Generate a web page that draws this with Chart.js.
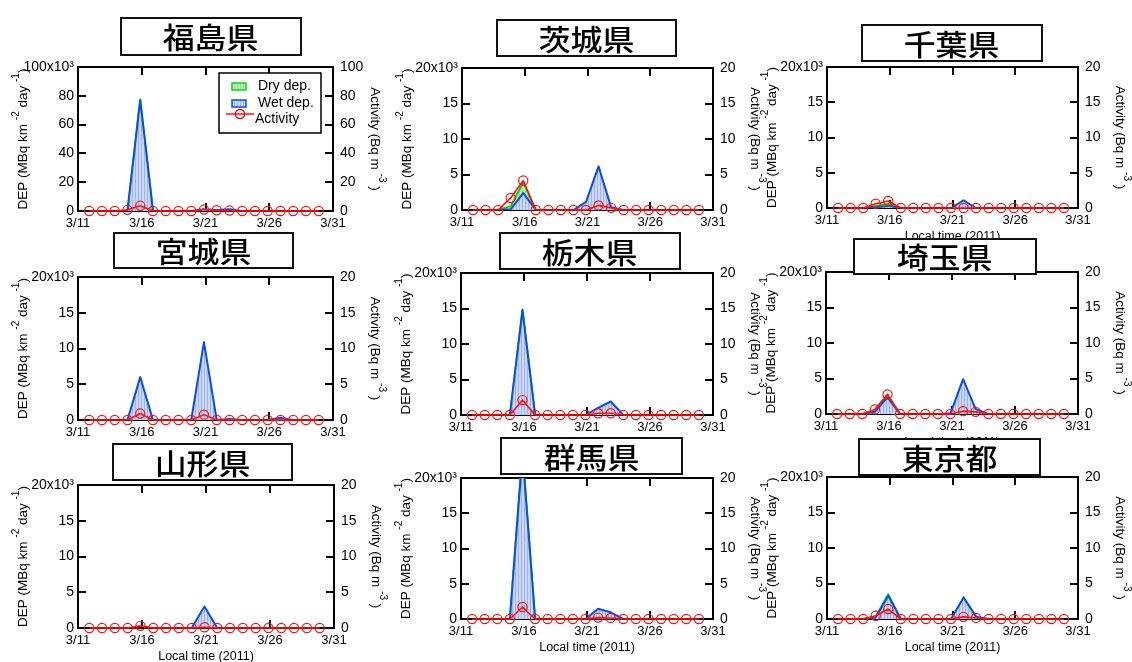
<!DOCTYPE html>
<html><head><meta charset="utf-8">
<script src="https://cdn.jsdelivr.net/npm/chart.js@4/dist/chart.umd.min.js"></script>
<style>
html,body{margin:0;padding:0;background:#fff;}
#wrap{position:relative;width:1132px;height:662px;overflow:hidden;background:#fff;}
#wrap canvas{position:absolute;}
.tbox{position:absolute;box-sizing:border-box;border:2px solid #111;background:#fff;z-index:10;display:flex;align-items:center;justify-content:center;}
.tbox span{font-family:"Noto Sans CJK JP","Noto Sans CJK SC",sans-serif;font-size:29px;font-weight:500;line-height:1;color:#000;display:inline-block;transform:scaleX(1.1);}
</style></head><body><div id="wrap"></div>
<script>
// ---------- data ----------
const prefectures = ['福島県','茨城県','千葉県','宮城県','栃木県','埼玉県','山形県','群馬県','東京都'];
const dateTicks = ['3/11','3/16','3/21','3/26','3/31'];
const sampleDays = [0.88,1.88,2.88,3.88,4.88,5.88,6.88,7.88,8.88,9.88,10.88,11.88,12.88,13.88,14.88,15.88,16.88,17.88,18.88];
const depMax  = [100,20,20,20,20,20,20,20,20];
const depStep = [20,5,5,5,5,5,5,5,5];

const fukushimaWet = [0,0,0,0,77,0,0,0,0,1.3,0.7,1.2,0,0,0,0,0,0,0];
const fukushimaDry = [0,0,0,0,0.5,0,0,0,0,0,0,0,0,0,0,0,0,0,0];
const fukushimaAct = [0,0,0,0.8,3.6,0,0,0,0,1.0,0.5,0.3,0,0,0,0,0,0,0];

const ibarakiWet = [0,0,0,0.1,2.4,0,0,0,0,1.15,6.15,0.4,0,0,0,0,0,0,0];
const ibarakiDry = [0,0,0,0.45,1.5,0,0,0,0,0,0,0,0,0,0,0,0,0,0];
const ibarakiAct = [0,0,0,1.7,4.15,0,0,0,0,0,0.65,0.3,0,0,0,0,0,0,0];

const chibaWet = [0,0,0,0.1,0.3,0,0,0,0,0,1.1,0,0,0,0,0,0,0,0];
const chibaDry = [0,0,0,0.2,0.3,0,0,0,0,0,0,0,0,0,0,0,0,0,0];
const chibaAct = [0,0,0,0.6,1.0,0,0,0,0,0,0,0,0,0,0,0,0,0,0];

const miyagiWet = [0,0,0,0,6.0,0,0,0,0,10.9,0,0.15,0,0,0,0.3,0,0,0];
const miyagiDry = [0,0,0,0,0,0,0,0,0,0,0,0,0,0,0,0,0,0,0];
const miyagiAct = [0,0,0,0,0.9,0,0,0,0,0.75,0,0,0,0,0,0,0,0,0];

const tochigiWet = [0,0,0,0,14.75,0,0,0,0,0,1.0,1.9,0,0,0,0,0,0,0];
const tochigiDry = [0,0,0,0,0.1,0,0,0,0,0,0,0,0,0,0,0,0,0,0];
const tochigiAct = [0,0,0,0,2.1,0,0,0,0,0,0.25,0.25,0,0,0,0,0,0,0];

const saitamaWet = [0,0,0,0.33,2.35,0,0,0,0,0.1,4.9,0.7,0,0,0,0,0,0,0];
const saitamaDry = [0,0,0,0.1,0.4,0,0,0,0,0,0,0,0,0,0,0,0,0,0];
const saitamaAct = [0,0,0,0.65,2.75,0,0,0,0,0,0.4,0.3,0,0,0,0,0,0,0];

const yamagataWet = [0,0,0,0,0,0,0,0,0,3.0,0,0,0,0,0,0,0,0,0];
const yamagataDry = [0,0,0,0,0,0,0,0,0,0,0,0,0,0,0,0,0,0,0];
const yamagataAct = [0,0,0,0,0.3,0,0,0,0,0.1,0,0,0,0,0,0,0,0,0];

const gunmaWet = [0,0,0,0,23.5,0,0,0,0,0,1.45,0.95,0,0,0,0,0,0,0];
const gunmaDry = [0,0,0,0,0.3,0,0,0,0,0,0,0,0,0,0,0,0,0,0];
const gunmaAct = [0,0,0,0,1.7,0,0,0,0,0,0.2,0.15,0,0,0,0,0,0,0];

const tokyoWet = [0,0,0,0.2,3.27,0,0,0,0,0,3.04,0.33,0,0,0,0,0,0,0];
const tokyoDry = [0,0,0,0.15,0.23,0,0,0,0,0,0,0,0,0,0,0,0,0,0];
const tokyoAct = [0,0,0,0.45,1.4,0,0,0,0,0,0.3,0.15,0,0,0,0,0,0,0];

const wetSeries = [fukushimaWet, ibarakiWet, chibaWet, miyagiWet, tochigiWet, saitamaWet, yamagataWet, gunmaWet, tokyoWet];
const drySeries = [fukushimaDry, ibarakiDry, chibaDry, miyagiDry, tochigiDry, saitamaDry, yamagataDry, gunmaDry, tokyoDry];
const actSeries = [fukushimaAct, ibarakiAct, chibaAct, miyagiAct, tochigiAct, saitamaAct, yamagataAct, gunmaAct, tokyoAct];

// ---------- layout ----------
const plotBoxes = [
  [78,67,333,211],[462,68,713,210],[827,67,1078,208],
  [78,277,333,420],[461,273,713,415],[826,272,1078,414],
  [78,485,334,628],[461,478,713,619],[827,477,1078,619]
];
const titleBoxes = [
  [120,17,302,56],[496,19,677,57],[861,24,1043,62],
  [113,232,294,269],[499,232,681,270],[853,238,1037,275],
  [112,443,293,481],[500,437,683,475],[858,438,1041,476]
];
const BLUE = '#0a4fe0', GREEN = '#10d010', RED = '#ff1010';
const FONT = '"Liberation Sans", Arial, sans-serif';
Chart.defaults.font.family = FONT;
Chart.defaults.color = '#000';

function stripe(ctx, bg, line) {
  const c = document.createElement('canvas'); c.width = 3; c.height = 4;
  const g = c.getContext('2d');
  g.fillStyle = bg; g.fillRect(0,0,3,4);
  g.fillStyle = line; g.fillRect(0,0,1,4);
  return ctx.createPattern(c, 'repeat');
}

function richText(ctx, parts, cx, cy, rot, size) {
  ctx.save();
  ctx.translate(cx, cy); ctx.rotate(rot);
  const main = size + 'px ' + FONT, sup = Math.round(size*0.72) + 'px ' + FONT;
  let total = 0;
  parts.forEach(p => { ctx.font = p[1] ? sup : main; p.w = ctx.measureText(p[0]).width; total += p.w; });
  let x = -total/2;
  ctx.textBaseline = 'middle'; ctx.textAlign = 'left'; ctx.fillStyle = '#000';
  parts.forEach(p => { ctx.font = p[1] ? sup : main; ctx.fillText(p[0], x, p[1] ? -size*0.5 : 0); x += p.w; });
  ctx.restore();
}

const wrap = document.getElementById('wrap');

function makePanel(i) {
  const [L,T,R,B] = plotBoxes[i];
  const ML = 75, MR = 60, MT = 20, MB = 45;
  const W = R-L+ML+MR, H = B-T+MT+MB;
  const cv = document.createElement('canvas');
  cv.width = W; cv.height = H;
  cv.style.left = (L-ML)+'px'; cv.style.top = (T-MT)+'px';
  cv.style.width = W+'px'; cv.style.height = H+'px';
  wrap.appendChild(cv);
  const ctx = cv.getContext('2d');
  const wetFill = stripe(ctx, '#cbd7f7', '#9fb3ee');
  const dryFill = stripe(ctx, '#c4f5c4', '#8ce48c');
  const wet = wetSeries[i], dry = drySeries[i], act = actSeries[i];
  const pts = arr => sampleDays.map((d,k) => ({x:d, y:arr[k]}));
  const hideZero = (arr, col) => c => (arr[c.p0DataIndex] === 0 && arr[c.p1DataIndex] === 0) ? 'rgba(0,0,0,0)' : col;

  const panelPlugin = {
    id: 'panelDeco',
    beforeDatasetsDraw(chart) {
      const {ctx, chartArea:a, scales} = chart;
      ctx.save();
      ctx.strokeStyle = '#000'; ctx.lineWidth = 2;
      ctx.beginPath();
      scales.y.ticks.forEach(t => { const py = Math.round(scales.y.getPixelForValue(t.value)); ctx.moveTo(a.left, py); ctx.lineTo(a.left+8, py); });
      scales.y2.ticks.forEach(t => { const py = Math.round(scales.y2.getPixelForValue(t.value)); ctx.moveTo(a.right, py); ctx.lineTo(a.right-8, py); });
      scales.x.ticks.forEach(t => { const px = Math.round(scales.x.getPixelForValue(t.value)); ctx.moveTo(px, a.top); ctx.lineTo(px, a.top+8); ctx.moveTo(px, a.bottom); ctx.lineTo(px, a.bottom-8); });
      ctx.stroke();
      ctx.strokeRect(a.left, a.top, a.right-a.left, a.bottom-a.top);
      ctx.restore();
    },
    afterDraw(chart) {
      const {ctx, chartArea:a} = chart;
      const my = (a.top + a.bottom)/2;
      richText(ctx, [['DEP (MBq km ',0],['-2',1],[' day ',0],['-1',1],[')',0]], a.left-55, my, -Math.PI/2, 13.5);
      richText(ctx, [['Activity (Bq m ',0],['-3',1],[' )',0]], a.right+42, my, Math.PI/2, 13.5);
      richText(ctx, [['Local time (2011)',0]], (a.left+a.right)/2, a.bottom+29, 0, 12.5);
      if (i === 0) {
        const x0 = a.left + 141, y0 = a.top + 6;
        ctx.save();
        ctx.fillStyle = '#fff'; ctx.fillRect(x0, y0, 102, 60);
        ctx.strokeStyle = '#000'; ctx.lineWidth = 1.5; ctx.strokeRect(x0, y0, 102, 60);
        ctx.fillStyle = dryFill; ctx.fillRect(x0+13, y0+10, 14, 7);
        ctx.strokeStyle = GREEN; ctx.lineWidth = 1.5; ctx.strokeRect(x0+13, y0+10, 14, 7);
        ctx.fillStyle = wetFill; ctx.fillRect(x0+13, y0+27, 14, 7);
        ctx.strokeStyle = BLUE; ctx.strokeRect(x0+13, y0+27, 14, 7);
        ctx.strokeStyle = RED; ctx.lineWidth = 1.5;
        ctx.beginPath(); ctx.moveTo(x0+7, y0+41); ctx.lineTo(x0+35, y0+41); ctx.stroke();
        ctx.beginPath(); ctx.arc(x0+21, y0+41, 4.6, 0, Math.PI*2); ctx.stroke();
        ctx.fillStyle = '#000'; ctx.font = '14px ' + FONT; ctx.textBaseline = 'middle'; ctx.textAlign = 'left';
        ctx.fillText('Dry dep.', x0+39, y0+13.5);
        ctx.fillText('Wet dep.', x0+39, y0+30.5);
        ctx.fillText('Activity', x0+36, y0+46.5);
        ctx.restore();
      }
    }
  };

  const yFont = {family: FONT, size: 14};
  const xFont = {family: FONT, size: 13};
  new Chart(ctx, {
    type: 'line',
    data: { datasets: [
      { label:'Wet dep.', data: pts(wet), yAxisID:'y', borderColor: BLUE, borderWidth: 2, borderJoinStyle: 'round',
        backgroundColor: wetFill, fill: 'origin', pointRadius: 0, tension: 0,
        segment: { borderColor: hideZero(wet, BLUE) } },
      { label:'Dry dep.', data: pts(dry), yAxisID:'y', borderColor: GREEN, borderWidth: 2, borderJoinStyle: 'round',
        backgroundColor: dryFill, fill: '-1', pointRadius: 0, tension: 0,
        segment: { borderColor: hideZero(dry, GREEN) } },
      { label:'Activity', data: pts(act), yAxisID:'y2', order: -1, borderColor: RED, borderWidth: 1.6, borderJoinStyle: 'round',
        pointRadius: 4.6, pointBorderWidth: 1.2, pointBackgroundColor: 'rgba(0,0,0,0)', pointBorderColor: RED,
        fill: false, tension: 0, clip: false }
    ]},
    options: {
      responsive: false, animation: false, events: [],
      layout: { padding: { top: MT, left: 0, right: 0, bottom: 0 } },
      plugins: { legend: { display: false }, tooltip: { enabled: false } },
      scales: {
        x: { type: 'linear', min: 0, max: 20, position: 'bottom',
             grid: { display: false, drawTicks: false }, border: { display: false },
             ticks: { stepSize: 5, padding: 5, maxRotation: 0, autoSkip: false, color: '#000', font: xFont,
                      callback: v => dateTicks[Math.round(v/5)] },
             afterFit: s => { s.height = MB; } },
        y: { type: 'linear', position: 'left', stacked: true, min: 0, max: depMax[i],
             grid: { display: false, drawTicks: false }, border: { display: false },
             ticks: { stepSize: depStep[i], padding: 4, color: '#000', font: yFont,
                      callback: v => v === depMax[i] ? v + 'x10³' : String(v) },
             afterFit: s => { s.width = ML; } },
        y2: { type: 'linear', position: 'right', stacked: false, min: 0, max: depMax[i],
              grid: { display: false, drawTicks: false }, border: { display: false },
              ticks: { stepSize: depStep[i], padding: 7, color: '#000', font: yFont },
              afterFit: s => { s.width = MR; } }
      }
    },
    plugins: [panelPlugin]
  });
}

for (let i = 0; i < 9; i++) makePanel(i);

titleBoxes.forEach((b, i) => {
  const d = document.createElement('div');
  d.className = 'tbox';
  d.style.left = b[0]+'px'; d.style.top = b[1]+'px';
  d.style.width = (b[2]-b[0])+'px'; d.style.height = (b[3]-b[1])+'px';
  const s = document.createElement('span'); s.textContent = prefectures[i];
  d.appendChild(s);
  wrap.appendChild(d);
});
</script></body></html>
